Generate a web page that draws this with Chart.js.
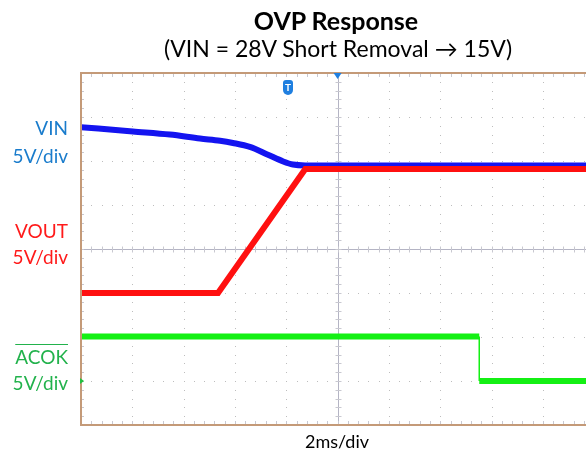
<!DOCTYPE html>
<html>
<head>
<meta charset="utf-8">
<script src="https://cdn.jsdelivr.net/npm/chart.js@4.4.0/dist/chart.umd.min.js"></script>
<style>
  html, body { margin: 0; padding: 0; background: #fff; }
  #wrap { position: relative; width: 586px; height: 455px; overflow: hidden; font-family: Lato, "Open Sans", sans-serif; }
  #c { position: absolute; left: 0; top: 0; }
  .t { position: absolute; white-space: nowrap; line-height: 1; }
  .lbl { position: absolute; right: 518px; text-align: right; white-space: nowrap; font-size: 19px; line-height: 1; }
</style>
</head>
<body>
<div id="wrap">
  <canvas id="c" width="586" height="455"></canvas>
  <div class="t" id="title" style="left:0;width:672px;text-align:center;top:8px;font-size:25px;font-weight:bold;color:#000;">OVP Response</div>
  <div class="t" id="sub" style="left:0;width:676px;text-align:center;top:37px;font-size:23px;color:#000;">(VIN = 28V Short Removal → 15V)</div>
  <div class="lbl" style="top:118px;color:#1a7ccc;">VIN</div>
  <div class="lbl" style="top:146px;color:#1a7ccc;">5V/div</div>
  <div class="lbl" style="top:221px;color:#ff1a1a;">VOUT</div>
  <div class="lbl" style="top:247px;color:#ff1a1a;">5V/div</div>
  <div class="lbl" style="top:347px;color:#22b24c;"><span style="text-decoration:overline;">ACOK</span></div>
  <div class="lbl" style="top:373px;color:#22b24c;">5V/div</div>
  <div class="t" style="left:0;width:674px;text-align:center;top:432px;font-size:18px;color:#000;">2ms/div</div>
  <div class="t" style="left:283px;top:80px;width:10px;height:15px;background:#1f7fe0;border-radius:3px 3px 5px 5px;color:#fff;font-size:10px;font-weight:bold;text-align:center;line-height:15px;">T</div>
</div>
<script>
// Time axis in divisions (2 ms/div), vertical values in screen divisions (5 V/div)
const vinTime  = [0, 1.01, 1.73, 2.32, 2.71, 2.96, 3.29, 3.63, 3.94, 4.13, 4.37, 10];
const vinDiv   = [2.77, 2.67, 2.60, 2.51, 2.46, 2.41, 2.32, 2.15, 1.99, 1.92, 1.90, 1.90];
const voutTime = [0, 2.67, 4.37, 10];
const voutDiv  = [-1.00, -1.00, 1.82, 1.82];
const acokTime = [0, 7.76, 7.76, 10];
const acokDiv  = [-1.99, -1.99, -3.00, -3.00];
const xDivisions = 9.84;   // visible part of the 10-division screen
const yDivisions = [-4, 4];

function pts(t, v) { return t.map((x, i) => ({ x: x, y: v[i] })); }

const frameColor = '#c49a78';
const scopeGrid = {
  id: 'scopeGrid',
  beforeDatasetsDraw(chart) {
    const { ctx, chartArea: a, scales: { x, y } } = chart;
    ctx.save();
    ctx.fillStyle = '#bdbdbd';
    for (let i = 1; i <= 9; i++) {
      if (i === 5) continue;
      const px = Math.round(x.getPixelForValue(i));
      for (let j = -20; j <= 20; j++) {
        const py = Math.round(y.getPixelForValue(j / 5));
        ctx.fillRect(px, py, 1, 1);
      }
    }
    for (let j = -3; j <= 3; j++) {
      if (j === 0) continue;
      const py = Math.round(y.getPixelForValue(j));
      for (let i = 0; i <= 50; i++) {
        const px = Math.round(x.getPixelForValue(i / 5));
        ctx.fillRect(px, py, 1, 1);
      }
    }
    ctx.strokeStyle = '#b4b4c4';
    ctx.lineWidth = 1;
    const cx = Math.round(x.getPixelForValue(5)) + 0.5;
    const cy = Math.round(y.getPixelForValue(0)) + 0.5;
    ctx.beginPath();
    ctx.moveTo(a.left, cy); ctx.lineTo(a.right, cy);
    ctx.moveTo(cx, a.top); ctx.lineTo(cx, a.bottom);
    ctx.stroke();
    ctx.strokeStyle = '#c8c8d0';
    ctx.beginPath();
    for (let i = 1; i < 50; i++) {
      const px = Math.round(x.getPixelForValue(i / 5)) + 0.5;
      ctx.moveTo(px, cy - 3); ctx.lineTo(px, cy + 3);
      ctx.moveTo(px, a.top); ctx.lineTo(px, a.top + 4);
      ctx.moveTo(px, a.bottom); ctx.lineTo(px, a.bottom - 4);
    }
    for (let j = -19; j < 20; j++) {
      const py = Math.round(y.getPixelForValue(j / 5)) + 0.5;
      ctx.moveTo(cx - 3, py); ctx.lineTo(cx + 3, py);
      ctx.moveTo(a.left, py); ctx.lineTo(a.left + 3, py);
    }
    ctx.stroke();
    ctx.restore();
  },
  afterDatasetsDraw(chart) {
    const { ctx, chartArea: a, scales: { x, y } } = chart;
    ctx.save();
    ctx.strokeStyle = frameColor;
    ctx.lineWidth = 2;
    ctx.beginPath();
    ctx.moveTo(a.right, a.top); ctx.lineTo(a.left, a.top); ctx.lineTo(a.left, a.bottom); ctx.lineTo(a.right, a.bottom);
    ctx.stroke();
    const cx = x.getPixelForValue(5);
    ctx.fillStyle = '#1f7fe0';
    ctx.beginPath();
    ctx.moveTo(cx - 4, a.top); ctx.lineTo(cx + 4, a.top); ctx.lineTo(cx, a.top + 6); ctx.closePath();
    ctx.fill();
    const gy = y.getPixelForValue(-3);
    ctx.fillStyle = '#22c040';
    ctx.beginPath();
    ctx.moveTo(a.left - 1, gy - 3); ctx.lineTo(a.left + 3, gy); ctx.lineTo(a.left - 1, gy + 3); ctx.closePath();
    ctx.fill();
    ctx.restore();
  }
};

const vertThin = { borderWidth: c => (c.p0.parsed.x === c.p1.parsed.x ? 1.5 : 6) };

new Chart(document.getElementById('c'), {
  type: 'line',
  data: {
    datasets: [
      { label: 'VOUT', data: pts(voutTime, voutDiv), borderColor: '#ff1010', borderWidth: 6, pointRadius: 0, order: 0 },
      { label: 'VIN', data: pts(vinTime, vinDiv), borderColor: '#1414f0', borderWidth: 6, pointRadius: 0, cubicInterpolationMode: 'monotone', order: 1 },
      { label: 'ACOK', data: pts(acokTime, acokDiv), borderColor: '#14f014', borderWidth: 6, pointRadius: 0, borderCapStyle: 'butt', segment: vertThin, order: 2 }
    ]
  },
  options: {
    responsive: false,
    animation: false,
    layout: { padding: { left: 81, top: 73, right: 0, bottom: 30 } },
    plugins: { legend: { display: false }, tooltip: { enabled: false }, title: { display: false } },
    scales: {
      x: { type: 'linear', min: 0, max: xDivisions, display: false },
      y: { type: 'linear', min: yDivisions[0], max: yDivisions[1], display: false }
    }
  },
  plugins: [scopeGrid]
});
</script>
</body>
</html>
